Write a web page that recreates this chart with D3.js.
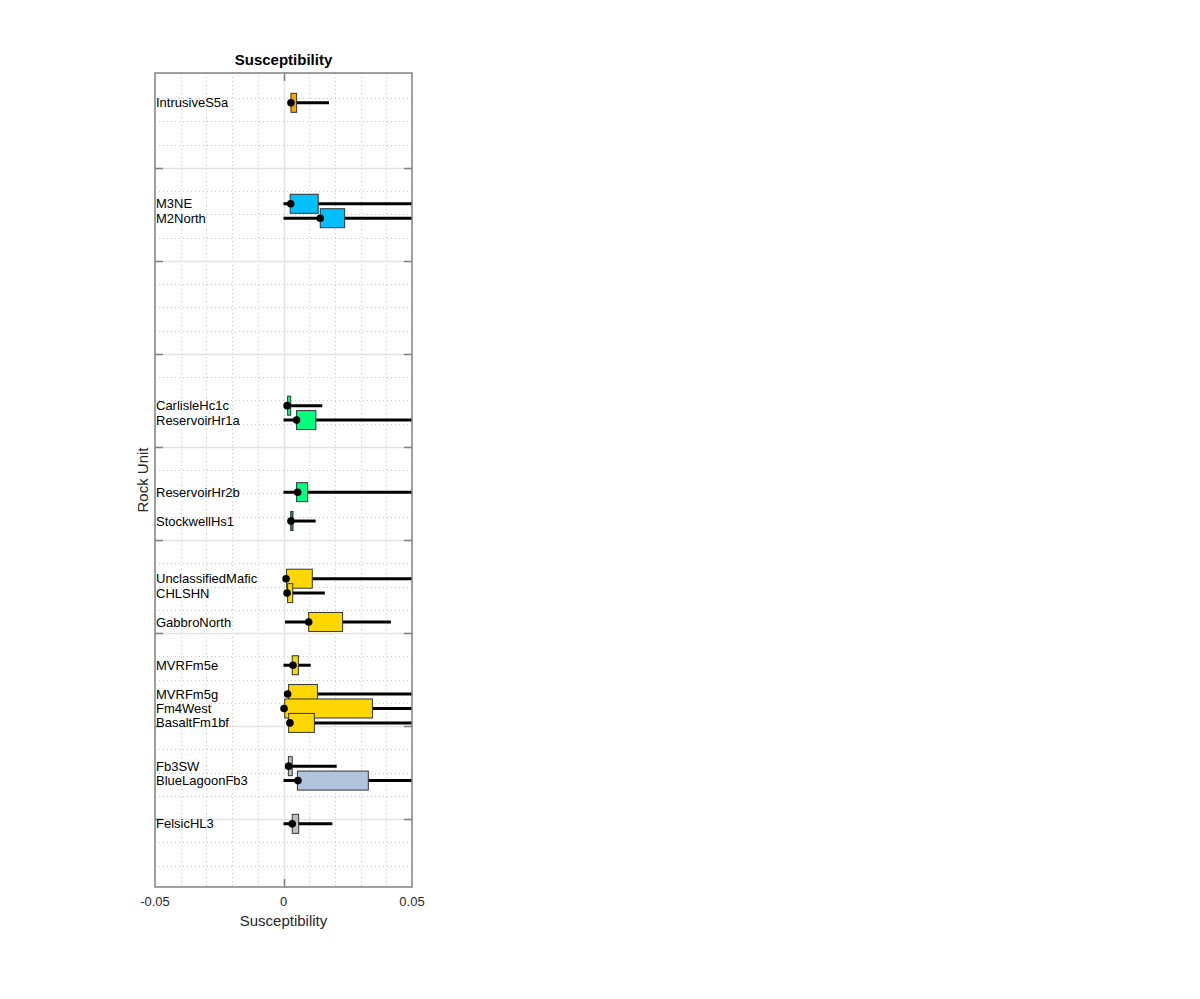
<!DOCTYPE html>
<html>
<head>
<meta charset="utf-8">
<script src="https://cdn.jsdelivr.net/npm/d3@7"></script>
<style>
body { margin:0; background:#fff; }
text { font-family: "Liberation Sans", Arial, sans-serif; }
</style>
</head>
<body>
<svg></svg>
<script>
// rock units, top to bottom
var units = ["IntrusiveS5a","M3NE","M2North","CarlisleHc1c","ReservoirHr1a","ReservoirHr2b","StockwellHs1",
	"UnclassifiedMafic","CHLSHN","GabbroNorth","MVRFm5e","MVRFm5g","Fm4West","BasaltFm1bf","Fb3SW","BlueLagoonFb3","FelsicHL3"]
var rows = [2, 9, 10, 23, 24, 29, 31, 35, 36, 38, 41, 43, 44, 45, 48, 49, 52]
var lows = [0.0029, 0, 0, 0.0014, 0, 0, 0.0029, 0.001, 0.0014, 0.0006, 0, 0.0016, 0.0002, 0.0025, 0.002, 0, 0]
var q1s = [0.0029, 0.0026, 0.0143, 0.0016, 0.0051, 0.0051, 0.0028, 0.0012, 0.0016, 0.0098, 0.0034, 0.002, 0.0005, 0.002, 0.0019, 0.0054, 0.0034]
var q3s = [0.0051, 0.0135, 0.0238, 0.0028, 0.0126, 0.0094, 0.0037, 0.0112, 0.0036, 0.023, 0.0058, 0.0132, 0.0346, 0.012, 0.0034, 0.033, 0.0059]
var highs = [0.0177, 0.09, 0.09, 0.0151, 0.09, 0.09, 0.0125, 0.09, 0.0161, 0.0418, 0.0106, 0.09, 0.09, 0.09, 0.0207, 0.09, 0.019]
var dots = [0.0029, 0.0028, 0.0143, 0.0014, 0.0051, 0.0055, 0.0029, 0.001, 0.0014, 0.0098, 0.0037, 0.0016, 0.0002, 0.0025, 0.002, 0.0056, 0.0034]
var colors = ["#FFA500","#00BFFF","#00BFFF","#00FF7F","#00FF7F","#00FF7F","#2E8B57",
	"#FFD700","#FFD700","#FFD700","#FFD700","#FFD700","#FFD700","#FFD700","#B0C4DE","#B0C4DE","#C0C0C0"]

var xTicks = [-0.05, 0, 0.05]
var xTickLabels = ["-0.05", "0", "0.05"]

var width = 1200
var height = 999
// plot box edges (window.top is reserved, so use other names)
var boxL = 155, boxR = 412, boxT = 73, boxB = 887

var svg = d3.select("svg")
	.attr("width", width)
	.attr("height", height)

var xScale = d3.scaleLinear()
	.domain([-0.05, 0.05])
	.range([boxL, boxR])

// grid units (minor every 1, major every 4)
var yGrid = d3.scaleLinear()
	.domain([-0.08, 34.92])
	.range([boxT, boxB])

// row units for the rock units
var yRow = d3.scaleLinear()
	.domain([-0.07, 56.38])
	.range([boxT, boxB])

var data = units.map(function(u, i){
	return {name: u, row: rows[i], low: lows[i], q1: q1s[i], q3: q3s[i], high: highs[i], dot: dots[i], color: colors[i]}
})

svg.append("clipPath").attr("id", "clip")
	.append("rect")
	.attr("x", boxL).attr("y", boxT)
	.attr("width", boxR - boxL).attr("height", boxB - boxT)

// minor x grid
var xMinor = d3.range(-0.04, 0.05, 0.01).filter(function(v){ return Math.abs(v) > 1e-9 })
svg.append("g").selectAll("line")
	.data(xMinor)
	.join("line")
	.attr("x1", function(d){ return Math.round(xScale(d)) + 0.5 })
	.attr("x2", function(d){ return Math.round(xScale(d)) + 0.5 })
	.attr("y1", boxT).attr("y2", boxB)
	.attr("stroke", "#c8c8c8")
	.attr("stroke-dasharray", "1,3")

// minor y grid
var yMinor = d3.range(0, 35).filter(function(v){ return v % 4 != 0 })
svg.append("g").selectAll("line")
	.data(yMinor)
	.join("line")
	.attr("x1", boxL).attr("x2", boxR)
	.attr("y1", function(d){ return Math.round(yGrid(d)) + 0.5 })
	.attr("y2", function(d){ return Math.round(yGrid(d)) + 0.5 })
	.attr("stroke", "#c8c8c8")
	.attr("stroke-dasharray", "1,3")

// major grid
var yMajor = d3.range(4, 33, 4)
svg.append("g").selectAll("line")
	.data(yMajor)
	.join("line")
	.attr("x1", boxL).attr("x2", boxR)
	.attr("y1", function(d){ return Math.round(yGrid(d)) + 0.5 })
	.attr("y2", function(d){ return Math.round(yGrid(d)) + 0.5 })
	.attr("stroke", "#e3e3e3")
	.attr("stroke-width", 1.5)

svg.append("line")
	.attr("x1", Math.round(xScale(0)) + 0.5).attr("x2", Math.round(xScale(0)) + 0.5)
	.attr("y1", boxT).attr("y2", boxB)
	.attr("stroke", "#e3e3e3")
	.attr("stroke-width", 1.5)

// y ticks both sides
var tk = svg.append("g")
yMajor.forEach(function(d){
	var y = Math.round(yGrid(d)) + 0.5
	tk.append("line").attr("x1", boxL).attr("x2", boxL + 8).attr("y1", y).attr("y2", y)
		.attr("stroke", "#808080").attr("stroke-width", 1.5)
	tk.append("line").attr("x1", boxR - 8).attr("x2", boxR).attr("y1", y).attr("y2", y)
		.attr("stroke", "#808080").attr("stroke-width", 1.5)
})
// x tick at 0, top and bottom
var x0 = Math.round(xScale(0)) + 0.5
tk.append("line").attr("x1", x0).attr("x2", x0).attr("y1", boxT).attr("y2", boxT + 8)
	.attr("stroke", "#808080").attr("stroke-width", 1.5)
tk.append("line").attr("x1", x0).attr("x2", x0).attr("y1", boxB - 8).attr("y2", boxB)
	.attr("stroke", "#808080").attr("stroke-width", 1.5)

// unit labels
svg.append("g").selectAll("text")
	.data(data)
	.join("text")
	.attr("x", boxL + 1)
	.attr("y", function(d){ return yRow(d.row) })
	.attr("dy", "0.35em")
	.attr("font-size", 13)
	.attr("fill", "#000")
	.text(function(d){ return d.name })

var marks = svg.append("g").attr("clip-path", "url(#clip)")
var boxH = 19

data.forEach(function(d){
	var g = marks.append("g")
	var y = yRow(d.row)
	g.append("line")
		.attr("x1", xScale(d.low)).attr("x2", xScale(d.high))
		.attr("y1", y).attr("y2", y)
		.attr("stroke", "#000").attr("stroke-width", 3)
	g.append("rect")
		.attr("x", xScale(d.q1))
		.attr("y", y - boxH / 2)
		.attr("width", Math.max(xScale(d.q3) - xScale(d.q1), 1))
		.attr("height", boxH)
		.attr("fill", d.color)
		.attr("stroke", "#333")
		.attr("stroke-width", 1)
	g.append("circle")
		.attr("cx", xScale(d.dot)).attr("cy", y)
		.attr("r", 3.8)
		.attr("fill", "#000")
})

// axes box
svg.append("rect")
	.attr("x", boxL).attr("y", boxT)
	.attr("width", boxR - boxL).attr("height", boxB - boxT)
	.attr("fill", "none")
	.attr("stroke", "#808080")
	.attr("stroke-width", 1.5)

// x tick labels
svg.append("g").selectAll("text")
	.data(xTicks)
	.join("text")
	.attr("x", function(d){ return xScale(d) })
	.attr("y", boxB + 19)
	.attr("text-anchor", "middle")
	.attr("font-size", 13)
	.attr("fill", "#262626")
	.text(function(d, i){ return xTickLabels[i] })

svg.append("text")
	.attr("x", (boxL + boxR) / 2)
	.attr("y", boxB + 39)
	.attr("text-anchor", "middle")
	.attr("font-size", 15)
	.attr("fill", "#262626")
	.text("Susceptibility")

svg.append("text")
	.attr("transform", "translate(148," + ((boxT + boxB) / 2) + ") rotate(-90)")
	.attr("text-anchor", "middle")
	.attr("font-size", 15)
	.attr("fill", "#262626")
	.text("Rock Unit")

svg.append("text")
	.attr("x", (boxL + boxR) / 2)
	.attr("y", boxT - 8)
	.attr("text-anchor", "middle")
	.attr("font-size", 15)
	.attr("font-weight", "bold")
	.attr("fill", "#000")
	.text("Susceptibility")
</script>
</body>
</html>
